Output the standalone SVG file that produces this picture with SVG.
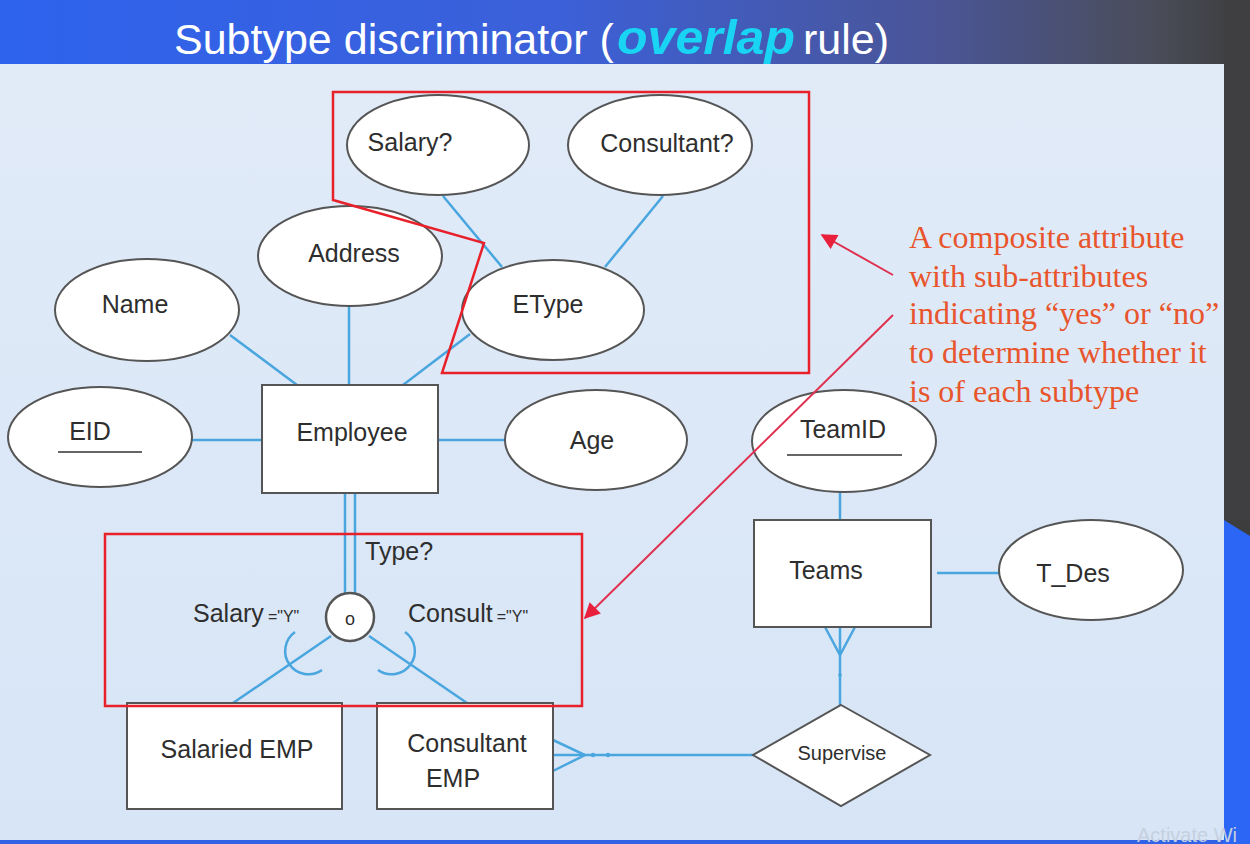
<svg xmlns="http://www.w3.org/2000/svg" width="1250" height="844" viewBox="0 0 1250 844">
  <defs>
    <linearGradient id="hdr" x1="0" y1="0" x2="1" y2="0">
      <stop offset="0" stop-color="#2e63ee"/>
      <stop offset="0.45" stop-color="#3c60d8"/>
      <stop offset="0.75" stop-color="#4a5596"/>
      <stop offset="0.92" stop-color="#4a4d5a"/>
      <stop offset="1" stop-color="#3d3d3d"/>
    </linearGradient>
    <linearGradient id="panel" x1="0" y1="0" x2="0" y2="1">
      <stop offset="0" stop-color="#e1ebf8"/>
      <stop offset="1" stop-color="#d7e5f6"/>
    </linearGradient>
    <marker id="redhead" viewBox="0 0 10 10" refX="9" refY="5" markerWidth="18" markerHeight="16" orient="auto" markerUnits="userSpaceOnUse">
      <path d="M0,0 L10,5 L0,10 z" fill="#e8203c"/>
    </marker>
  </defs>
  <style>
    .ent { fill: #ffffff; stroke: #555555; stroke-width: 2; }
    .attr { fill: #ffffff; stroke: #555555; stroke-width: 2; }
    .lbl { font-family: "Liberation Sans", Arial, sans-serif; font-size: 25px; fill: #2e2e2e; }
    .small { font-family: "Liberation Sans", Arial, sans-serif; font-size: 16px; fill: #2e2e2e; }
    .link { stroke: #4aa6df; stroke-width: 2.5; fill: none; }
    .hl { stroke: #e8202a; stroke-width: 2.5; fill: none; }
    .note { font-family: "Liberation Serif", "Times New Roman", serif; font-size: 32px; fill: #e8552c; }
    .ptr { stroke: #e03050; stroke-width: 2; fill: none; }
  </style>

  <!-- slide background -->
  <rect x="0" y="0" width="1250" height="844" fill="#3d3d3d"/>
  <rect x="0" y="0" width="1250" height="66" fill="url(#hdr)"/>
  <rect x="1224" y="0" width="26" height="520" fill="#3f3f41"/>
  <polygon points="1224,520 1250,536 1250,844 1224,844" fill="#2c66f4"/>
  <rect x="0" y="64" width="1224" height="777" fill="url(#panel)"/>
  <rect x="0" y="840" width="1224" height="4" fill="#3262e6"/>

  <!-- title -->
  <g id="title" font-family="'Liberation Sans', Arial, sans-serif">
    <text x="174" y="54" font-size="43" fill="#ffffff">Subtype discriminator (</text>
    <text x="617" y="54" font-size="48" font-weight="bold" font-style="italic" fill="#19d4f2" textLength="178" lengthAdjust="spacingAndGlyphs">overlap</text>
    <text x="803" y="54" font-size="43" fill="#ffffff">rule)</text>
  </g>

  <!-- connectors -->
  <g id="connectors">
    <line class="link" x1="443" y1="196" x2="502" y2="267"/>
    <line class="link" x1="663" y1="196" x2="605" y2="267"/>
    <line class="link" x1="470" y1="334" x2="403" y2="385"/>
    <line class="link" x1="349" y1="306" x2="349" y2="385"/>
    <line class="link" x1="230" y1="335" x2="297" y2="385"/>
    <line class="link" x1="192" y1="440" x2="262" y2="440"/>
    <line class="link" x1="438" y1="440" x2="505" y2="440"/>
    <!-- total-participation double line to the discriminator circle -->
    <line class="link" x1="345" y1="493" x2="345" y2="595"/>
    <line class="link" x1="355" y1="493" x2="355" y2="595"/>
    <line class="link" x1="331" y1="636" x2="233" y2="703"/>
    <line class="link" x1="369" y1="636" x2="467" y2="703"/>
    <!-- subset arcs -->
    <path class="link" d="M295,632 A21,21 0 1,0 322,670"/>
    <path class="link" d="M405,632 A21,21 0 1,1 378,670"/>
    <!-- Teams side -->
    <line class="link" x1="840" y1="492" x2="840" y2="520"/>
    <line class="link" x1="937" y1="573" x2="999" y2="573"/>
    <line class="link" x1="840" y1="627" x2="840" y2="705"/>
    <polyline class="link" points="825,627 840,655 855,627"/>
    <circle cx="840" cy="675" r="1.8" fill="#4aa6df"/>
    <line class="link" x1="553" y1="755" x2="753" y2="755"/>
    <polyline class="link" points="553,740 585,755 553,771"/>
    <circle cx="593" cy="755" r="2.2" fill="#4aa6df"/>
    <circle cx="608" cy="755" r="2.2" fill="#4aa6df"/>
  </g>

  <!-- attributes -->
  <g id="salary-q"><ellipse class="attr" cx="438" cy="145" rx="91" ry="50"/><text class="lbl" x="410" y="151" text-anchor="middle">Salary?</text></g>
  <g id="consultant-q"><ellipse class="attr" cx="660" cy="145" rx="92" ry="50"/><text class="lbl" x="667" y="152" text-anchor="middle">Consultant?</text></g>
  <g id="address"><ellipse class="attr" cx="350" cy="256" rx="92" ry="50"/><text class="lbl" x="354" y="262" text-anchor="middle">Address</text></g>
  <g id="name"><ellipse class="attr" cx="147" cy="310" rx="92" ry="51"/><text class="lbl" x="135" y="313" text-anchor="middle">Name</text></g>
  <g id="etype"><ellipse class="attr" cx="553" cy="310" rx="91" ry="50"/><text class="lbl" x="548" y="313" text-anchor="middle">EType</text></g>
  <g id="eid"><ellipse class="attr" cx="100" cy="437" rx="92" ry="50"/><text class="lbl" x="90" y="440" text-anchor="middle">EID</text><line x1="58" y1="452" x2="142" y2="452" stroke="#666" stroke-width="2"/></g>
  <g id="age"><ellipse class="attr" cx="596" cy="440" rx="91" ry="50"/><text class="lbl" x="592" y="449" text-anchor="middle">Age</text></g>
  <g id="teamid"><ellipse class="attr" cx="844" cy="441" rx="92" ry="51"/><text class="lbl" x="843" y="438" text-anchor="middle">TeamID</text><line x1="787" y1="455" x2="902" y2="455" stroke="#666" stroke-width="2"/></g>
  <g id="t-des"><ellipse class="attr" cx="1091" cy="570" rx="92" ry="50"/><text class="lbl" x="1073" y="582" text-anchor="middle">T_Des</text></g>

  <!-- entities -->
  <g id="employee"><rect class="ent" x="262" y="385" width="176" height="108"/><text class="lbl" x="352" y="441" text-anchor="middle">Employee</text></g>
  <g id="teams"><rect class="ent" x="754" y="520" width="177" height="107"/><text class="lbl" x="826" y="579" text-anchor="middle">Teams</text></g>
  <g id="salaried-emp"><rect class="ent" x="127" y="703" width="215" height="106"/><text class="lbl" x="237" y="758" text-anchor="middle">Salaried EMP</text></g>
  <g id="consultant-emp"><rect class="ent" x="377" y="703" width="176" height="106"/><text class="lbl" x="467" y="752" text-anchor="middle">Consultant</text><text class="lbl" x="453" y="787" text-anchor="middle">EMP</text></g>

  <!-- relationship -->
  <g id="supervise"><polygon class="ent" points="841,705 930,755 841,806 753,755"/><text x="842" y="760" text-anchor="middle" font-family="'Liberation Sans', Arial, sans-serif" font-size="20" fill="#2e2e2e">Supervise</text></g>

  <!-- discriminator -->
  <g id="discriminator">
    <circle cx="350" cy="617" r="24" fill="#ffffff" stroke="#555555" stroke-width="2.5"/>
    <text x="350" y="625" text-anchor="middle" font-family="'Liberation Sans', Arial, sans-serif" font-size="18" fill="#2e2e2e">o</text>
    <text class="lbl" x="365" y="560" font-size="24">Type?</text>
    <text x="193" y="622"><tspan class="lbl">Salary</tspan><tspan class="small" dx="4">="Y"</tspan></text>
    <text x="408" y="622"><tspan class="lbl">Consult</tspan><tspan class="small" dx="4">="Y"</tspan></text>
  </g>

  <!-- highlight frames -->
  <g id="highlights">
    <polygon class="hl" points="333,92 809,92 809,373 442,373 484,243 333,200"/>
    <rect class="hl" x="105" y="534" width="477" height="172"/>
  </g>

  <!-- note and pointers -->
  <g id="note">
    <text class="note" x="909" y="248">A composite attribute</text>
    <text class="note" x="909" y="287">with sub-attributes</text>
    <text class="note" x="909" y="324">indicating “yes” or “no”</text>
    <text class="note" x="909" y="363">to determine whether it</text>
    <text class="note" x="909" y="402">is of each subtype</text>
    <line class="ptr" x1="893" y1="275" x2="822" y2="235" marker-end="url(#redhead)"/>
    <line class="ptr" x1="893" y1="315" x2="585" y2="618" marker-end="url(#redhead)"/>
  </g>

  <text x="1137" y="842" font-family="'Liberation Sans', Arial, sans-serif" font-size="20" fill="#c6d0de">Activate Wi</text>
</svg>
